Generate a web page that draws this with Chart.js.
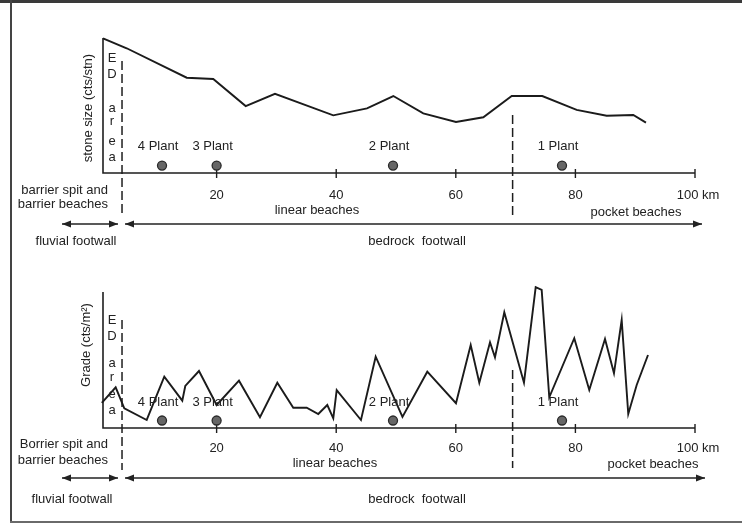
<!DOCTYPE html>
<html>
<head>
<meta charset="utf-8">
<script src="https://cdn.jsdelivr.net/npm/chart.js@4.4.1/dist/chart.umd.min.js"></script>
<style>
  html, body { margin: 0; padding: 0; background: #fff; }
  #fig { position: relative; width: 742px; height: 525px; background: #fff; overflow: hidden; }
  #fig canvas { position: absolute; left: 0; }
  .rule { position: absolute; }
</style>
</head>
<body>
<div id="fig">
  <div class="rule" style="left:0;top:0;width:742px;height:3px;background:#3a3a3a"></div>
  <div class="rule" style="left:10px;top:0;width:2px;height:523px;background:#444"></div>
  <div class="rule" style="left:10px;top:521px;width:732px;height:2px;background:#6a6a6a"></div>
  <canvas id="stone" width="742" height="260" style="top:0"></canvas>
  <canvas id="grade" width="742" height="265" style="top:260px"></canvas>
</div>
<script>
// Distance along the coast (km) and the two profiles measured along it
const tickKm = [20, 40, 60, 80, 100];
const tickLabels = ['20', '40', '60', '80', '100 km'];

const stoneKm   = [1, 4.96, 15.0, 19.44, 24.86, 29.76, 39.51, 45.15, 49.55, 54.56, 60.03, 64.6, 69.35, 74.46, 80.21, 85.23, 89.68, 91.8];
const stoneSize = [99.8, 92.4, 70.6, 69.6, 49.6, 58.7, 42.7, 47.9, 57.0, 44.2, 37.8, 41.3, 57.0, 57.0, 46.7, 42.4, 43.0, 37.3];

const gradeKm    = [0.8, 3.12, 4.56, 8.31, 11.25, 14.26, 14.76, 17.05, 20.01, 23.74, 27.25, 30.15, 32.82, 35.06, 37.0, 38.51, 39.51, 40.08, 44.14, 46.6, 51.08, 55.23, 60.03, 62.49, 63.93, 65.72, 66.55, 68.11, 71.4, 73.36, 74.36, 75.63, 79.81, 82.32, 84.95, 86.45, 87.74, 88.84, 90.25, 92.14];
const gradeValue = [18.4, 29.9, 14.5, 5.9, 37.7, 20.1, 30.9, 41.9, 16.9, 34.8, 7.9, 33.3, 14.9, 14.9, 10.3, 16.9, 7.1, 27.9, 5.9, 52.4, 8.1, 41.4, 18.2, 61.0, 33.3, 63.0, 52.0, 85.1, 33.3, 103.5, 101.5, 22.6, 66.0, 27.9, 65.4, 40.2, 79.4, 10.3, 31.6, 53.7];

// Processing plants
const plantNames = ['4 Plant', '3 Plant', '2 Plant', '1 Plant'];
const plantKm = [10.87, 20.0, 49.5, 77.76];
const PLANT_LEVEL = 5.5;

// Boundaries: ED area limit and start of pocket beaches
const edKm = 4.18;
const pocketKm = 69.5;

const FONT = '13px "Liberation Sans", Arial, Helvetica, sans-serif';
const INK = '#222';

function arrow(ctx, x1, x2, y, headL, headR) {
  const L = 9, W = 3.5;
  ctx.beginPath(); ctx.moveTo(x1, y); ctx.lineTo(x2, y); ctx.stroke();
  if (headL) { ctx.beginPath(); ctx.moveTo(x1, y); ctx.lineTo(x1 + L, y - W); ctx.lineTo(x1 + L, y + W); ctx.closePath(); ctx.fill(); }
  if (headR) { ctx.beginPath(); ctx.moveTo(x2, y); ctx.lineTo(x2 - L, y - W); ctx.lineTo(x2 - L, y + W); ctx.closePath(); ctx.fill(); }
}

function text(ctx, s, x, y, align) {
  ctx.textAlign = align || 'center';
  ctx.fillText(s, x, y);
}

function panelPlugin(p) {
  return {
    id: 'panelDecor',
    beforeDatasetsDraw(chart) {
      const ctx = chart.ctx, xs = chart.scales.x, ys = chart.scales.y;
      const x0 = xs.getPixelForValue(1), y0 = ys.getPixelForValue(0);
      ctx.save();
      ctx.strokeStyle = '#1e1e1e';
      ctx.lineWidth = 1.6;
      // axes
      ctx.beginPath();
      ctx.moveTo(x0, ys.getPixelForValue(100));
      ctx.lineTo(x0, y0);
      ctx.lineTo(xs.getPixelForValue(100), y0);
      ctx.stroke();
      ctx.lineWidth = 1.4;
      tickKm.forEach(k => {
        const x = xs.getPixelForValue(k);
        ctx.beginPath(); ctx.moveTo(x, y0 - 4); ctx.lineTo(x, y0 + 5); ctx.stroke();
      });
      // dashed boundaries
      ctx.setLineDash([9, 4]);
      ctx.lineWidth = 1.5;
      const xe = xs.getPixelForValue(edKm);
      ctx.beginPath(); ctx.moveTo(xe, ys.getPixelForValue(p.edTop)); ctx.lineTo(xe, p.edBottom); ctx.stroke();
      const xp = xs.getPixelForValue(pocketKm);
      ctx.beginPath(); ctx.moveTo(xp, ys.getPixelForValue(p.pocketTop)); ctx.lineTo(xp, p.pocketBottom); ctx.stroke();
      ctx.setLineDash([]);
      ctx.restore();
    },
    afterDatasetsDraw(chart) {
      const ctx = chart.ctx, xs = chart.scales.x, ys = chart.scales.y;
      const y0 = ys.getPixelForValue(0);
      const xe = xs.getPixelForValue(edKm);
      ctx.save();
      ctx.font = FONT;
      ctx.fillStyle = INK;
      ctx.strokeStyle = INK;
      ctx.textBaseline = 'middle';

      // tick labels
      tickKm.forEach((k, i) => {
        const last = i === tickKm.length - 1;
        text(ctx, tickLabels[i], xs.getPixelForValue(k) + (last ? 3 : 0), y0 + p.tickDy);
      });

      // plant labels
      const py = ys.getPixelForValue(PLANT_LEVEL);
      plantNames.forEach((n, i) => text(ctx, n, xs.getPixelForValue(plantKm[i]) - 4, py + p.plantDy));

      // ED area letters
      p.edLetters.forEach(([ch, y]) => text(ctx, ch, xe - 10, y));

      // y axis title
      ctx.save();
      ctx.translate(p.yTitleX, p.yTitleY);
      ctx.rotate(-Math.PI / 2);
      text(ctx, p.yTitle, 0, 0);
      ctx.restore();

      // coast type labels
      text(ctx, p.spit[0], 108, p.spitY[0], 'right');
      text(ctx, p.spit[1], 108, p.spitY[1], 'right');
      text(ctx, 'linear beaches', p.linearX, p.linearY);
      text(ctx, 'pocket beaches', p.pocketX, p.pocketY);

      // footwall arrows
      ctx.lineWidth = 1.4;
      arrow(ctx, 62, xe - 4, p.arrowY, true, true);
      arrow(ctx, xe + 3, p.arrowEnd, p.arrowY, true, true);
      text(ctx, 'fluvial footwall', p.fluvialX, p.footY);
      text(ctx, 'bedrock  footwall', 417, p.footY);
      ctx.restore();
    }
  };
}

function makeChart(id, km, vals, p) {
  return new Chart(document.getElementById(id), {
    type: 'line',
    data: {
      datasets: [
        {
          data: km.map((x, i) => ({ x: x, y: vals[i] })),
          borderColor: '#1b1b1b',
          borderWidth: 1.9,
          pointRadius: 0,
          tension: 0,
          fill: false,
          clip: false,
          order: 1
        },
        {
          type: 'scatter',
          data: plantKm.map(x => ({ x: x, y: PLANT_LEVEL })),
          pointRadius: 4.5,
          pointBackgroundColor: '#666',
          pointBorderColor: '#2a2a2a',
          pointBorderWidth: 1.3,
          showLine: false,
          order: 0
        }
      ]
    },
    options: {
      responsive: false,
      animation: false,
      events: [],
      layout: { padding: { left: 103, right: 47, top: p.padTop, bottom: p.padBottom } },
      plugins: { legend: { display: false }, tooltip: { enabled: false } },
      scales: {
        x: { type: 'linear', min: 1, max: 100, display: false },
        y: { type: 'linear', min: 0, max: 100, display: false }
      }
    },
    plugins: [panelPlugin(p)]
  });
}

makeChart('stone', stoneKm, stoneSize, {
  padTop: 38, padBottom: 87,
  yTitle: 'stone size (cts/stn)', yTitleX: 88, yTitleY: 108,
  edLetters: [['E', 58], ['D', 74], ['a', 108], ['r', 121], ['e', 141], ['a', 157]],
  edTop: 83, edBottom: 217, pocketTop: 43, pocketBottom: 215,
  tickDy: 22, plantDy: -19,
  spit: ['barrier spit and', 'barrier beaches'], spitY: [190, 204],
  linearX: 317, linearY: 210, pocketX: 636, pocketY: 212,
  arrowY: 224, arrowEnd: 702, fluvialX: 76, footY: 241
});

makeChart('grade', gradeKm, gradeValue, {
  padTop: 32, padBottom: 97,
  yTitle: 'Grade (cts/m\u00B2)', yTitleX: 86, yTitleY: 85,
  edLetters: [['E', 60], ['D', 76], ['a', 103], ['r', 117], ['e', 134], ['a', 150]],
  edTop: 79.4, edBottom: 210, pocketTop: 42.6, pocketBottom: 208,
  tickDy: 20, plantDy: -18,
  spit: ['Borrier spit and', 'barrier beaches'], spitY: [184, 200],
  linearX: 335, linearY: 203, pocketX: 653, pocketY: 204,
  arrowY: 218, arrowEnd: 705, fluvialX: 72, footY: 239
});
</script>
</body>
</html>
